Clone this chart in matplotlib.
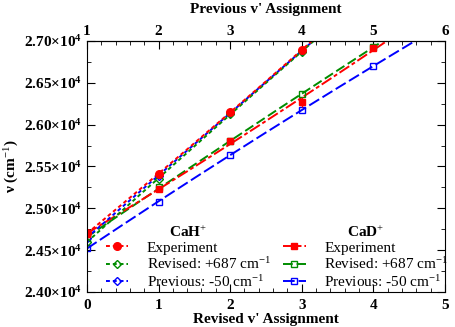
import numpy as np
import matplotlib
matplotlib.use("Agg")
import matplotlib.pyplot as plt
from matplotlib.ticker import MultipleLocator, FixedLocator, FuncFormatter
from matplotlib.lines import Line2D

plt.rcParams["font.family"] = ["Liberation Serif", "DejaVu Serif"]
plt.rcParams["mathtext.fontset"] = "custom"
plt.rcParams["mathtext.rm"] = "Liberation Serif"
plt.rcParams["mathtext.bf"] = "Liberation Serif:bold"
plt.rcParams["mathtext.it"] = "Liberation Serif:italic"

# Data

v_cah = np.array([0, 1, 2, 3])
cah_exp = np.array([24700, 25410, 26150, 26890])
cah_rev = np.array([24600, 25350, 26130, 26870])
v_cah_prev = np.array([1, 2, 3, 4])          # previous assignment (top axis)
cah_prev = np.array([24650, 25390, 26140, 26880])

v_cad = np.array([0, 1, 2, 3, 4])
cad_exp = np.array([24690, 25235, 25800, 26270, 26910])
cad_exp_err = np.array([20, 20, 20, 60, 20])
cad_rev = np.array([24650, 25250, 25800, 26360, 26930])
v_cad_prev = np.array([1, 2, 3, 4, 5])       # previous assignment (top axis)
cad_prev = np.array([24520, 25080, 25640, 26170, 26700])

top_ticks = [1, 2, 3, 4, 5, 6]

RED = "#ff0000"
GREEN = "#008c00"
BLUE = "#0000ff"


def prev_to_rev(v):
    return v - 1


def rev_to_prev(v):
    return v + 1


def fit_line(x, y, xs):
    coef = np.polyfit(x, y, 2)
    return np.polyval(coef, xs)


fig = plt.figure(figsize=(4.55, 3.27), dpi=100)
ax = fig.add_axes([0.191, 0.107, 0.787, 0.768])

xs = np.linspace(0, 5, 200)

# CaD+ (dashed)
ax.plot(xs, fit_line(v_cad, cad_prev, xs), color=BLUE, lw=1.4, dashes=(6, 2))
ax.plot(xs, fit_line(v_cad, cad_rev, xs), color=GREEN, lw=1.4, dashes=(5, 2))
ax.plot(xs, fit_line(v_cad, cad_exp, xs), color=RED, lw=1.4, dashes=(6, 1.5, 2, 1.5))
ax.plot(prev_to_rev(v_cad_prev), cad_prev, ls="none", marker="s", ms=5,
        mfc="none", mec=BLUE, mew=1.0)
ax.plot(v_cad, cad_rev, ls="none", marker="s", ms=5, mfc="none", mec=GREEN, mew=1.0)
ax.errorbar(v_cad, cad_exp, yerr=cad_exp_err, ls="none", marker="s", ms=5,
            color=RED, ecolor=RED, elinewidth=1.0, capsize=0)

# CaH+ (dotted)
ax.plot(xs, fit_line(prev_to_rev(v_cah_prev), cah_prev, xs), color=BLUE, lw=1.4, dashes=(2, 1.5))
ax.plot(xs, fit_line(v_cah, cah_rev, xs), color=GREEN, lw=1.4, dashes=(2, 1.5))
ax.plot(xs, fit_line(v_cah, cah_exp, xs), color=RED, lw=1.4, dashes=(2, 1.5))
ax.plot(prev_to_rev(v_cah_prev), cah_prev, ls="none", marker="D", ms=4.5,
        mfc="none", mec=BLUE, mew=1.0)
ax.plot(v_cah, cah_rev, ls="none", marker="D", ms=4.5, mfc="none", mec=GREEN, mew=1.0)
ax.plot(v_cah, cah_exp, ls="none", marker="o", ms=5.5, color=RED)

# Axes
ax.set_xlim(0, 5)
ax.set_ylim(24000, 27000)
ax.xaxis.set_major_locator(MultipleLocator(1))
ax.xaxis.set_minor_locator(MultipleLocator(0.2))
ax.yaxis.set_major_locator(MultipleLocator(500))
ax.yaxis.set_minor_locator(MultipleLocator(250))
ax.yaxis.set_major_formatter(FuncFormatter(
    lambda y, p: r"$\mathbf{%.2f{\times}10^{4}}$" % (y / 1e4)))
ax.tick_params(which="both", direction="in", right=True, top=False)
ax.tick_params(which="major", length=6, labelsize=11)
ax.tick_params(axis="x", which="major", pad=5)
ax.tick_params(which="minor", length=3)
for lab in ax.get_xticklabels():
    lab.set_fontweight("bold")

ax.set_xlabel("Revised v' Assignment", fontsize=11, fontweight="bold", labelpad=1)
ax.set_ylabel(r"ν (cm$^{-1}$)", fontsize=11, fontweight="bold", labelpad=2)

secax = ax.secondary_xaxis("top", functions=(rev_to_prev, prev_to_rev))
secax.xaxis.set_major_locator(FixedLocator(top_ticks))
secax.xaxis.set_minor_locator(FixedLocator(np.arange(1, 6.01, 0.2)))
secax.tick_params(which="both", direction="in")
secax.tick_params(which="major", length=6, labelsize=11, pad=2)
secax.tick_params(which="minor", length=3)
for lab in secax.get_xticklabels():
    lab.set_fontweight("bold")
secax.set_xlabel("Previous v' Assignment", fontsize=11, fontweight="bold", labelpad=9)

# Legends
h_cah = [
    Line2D([], [], color=RED, lw=1.4, dashes=(2, 1.5), marker="o", ms=5.5),
    Line2D([], [], color=GREEN, lw=1.4, dashes=(2, 1.5), marker="D", ms=4.5, mfc="none"),
    Line2D([], [], color=BLUE, lw=1.4, dashes=(2, 1.5), marker="D", ms=4.5, mfc="none"),
]
h_cad = [
    Line2D([], [], color=RED, lw=1.4, dashes=(6, 1.5, 2, 1.5), marker="s", ms=5),
    Line2D([], [], color=GREEN, lw=1.4, dashes=(5, 2), marker="s", ms=5, mfc="none"),
    Line2D([], [], color=BLUE, lw=1.4, dashes=(6, 2), marker="s", ms=5, mfc="none"),
]
labels = ["Experiment", r"Revised: +687 cm$^{-1}$", r"Previous: -50 cm$^{-1}$"]

leg1 = ax.legend(h_cah, labels, title=r"CaH$^{+}$", loc="lower left",
                 bbox_to_anchor=(0.035, -0.015), frameon=False, fontsize=11,
                 handlelength=1.5, handletextpad=1.2, labelspacing=0.1,
                 borderaxespad=0.0)
leg1.get_title().set_fontweight("bold")
leg1.get_title().set_fontsize(11)
ax.add_artist(leg1)

leg2 = ax.legend(h_cad, labels, title=r"CaD$^{+}$", loc="lower left",
                 bbox_to_anchor=(0.53, -0.015), frameon=False, fontsize=11,
                 handlelength=1.5, handletextpad=1.2, labelspacing=0.1,
                 borderaxespad=0.0)
leg2.get_title().set_fontweight("bold")
leg2.get_title().set_fontsize(11)

fig.savefig("out.png", dpi=100)
